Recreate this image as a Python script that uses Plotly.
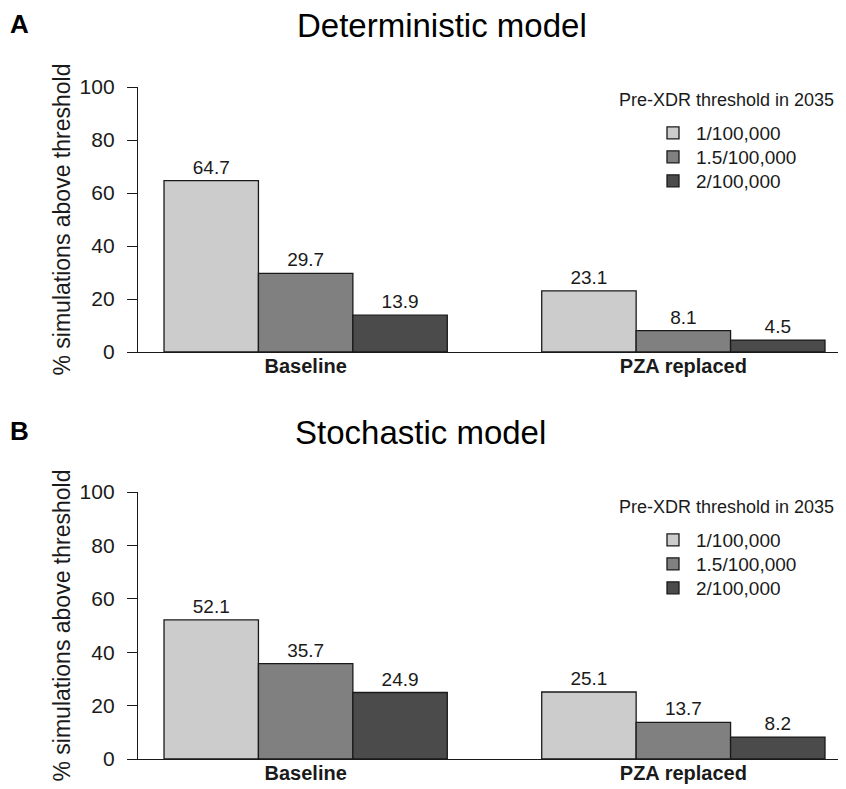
import plotly.graph_objects as go

categories = ["Baseline", "PZA replaced"]
series_names = ["1/100,000", "1.5/100,000", "2/100,000"]
deterministic = [[64.7, 23.1], [29.7, 8.1], [13.9, 4.5]]
stochastic = [[52.1, 25.1], [35.7, 13.7], [24.9, 8.2]]
colors = ["#cccccc", "#808080", "#4b4b4b"]
panel_titles = ["Deterministic model", "Stochastic model"]
panel_letters = ["A", "B"]
legend_title = "Pre-XDR threshold in 2035"
y_title = "% simulations above threshold"
y_ticks = [0, 20, 40, 60, 80, 100]

# page body has an 8px margin; work in reference pixel coordinates
OFF = 8
W, H = 846 - OFF, 789 - OFF
FONT = "Liberation Sans, Arial, sans-serif"
INK = "#1a1a1a"

def px_x(p):
    return (p - OFF) / W

def px_y(p):
    return 1 - (p - OFF) / H

fig = go.Figure()

panels = [
    dict(data=deterministic, top=87, bottom=352, xa="x", ya="y", dy=0),
    dict(data=stochastic, top=492, bottom=759, xa="x2", ya="y2", dy=407),
]
row_y = [133, 157, 181]

layout = dict(
    template="none",
    width=W, height=H,
    margin=dict(l=0, r=0, t=0, b=0, autoexpand=False),
    paper_bgcolor="white", plot_bgcolor="white",
    barmode="group", bargap=0.25, bargroupgap=0,
    font=dict(family=FONT, color=INK),
    showlegend=True,
)

annotations = []
li = 0
for pi, p in enumerate(panels):
    for si, name in enumerate(series_names):
        li += 1
        leg = "legend" if li == 1 else "legend%d" % li
        fig.add_trace(go.Bar(
            x=categories, y=p["data"][si], name=name,
            marker=dict(color=colors[si], line=dict(color=INK, width=1.3)),
            texttemplate="%{y:.1f}", textposition="outside",
            textfont=dict(size=19, color=INK, family=FONT),
            cliponaxis=False,
            xaxis=p["xa"], yaxis=p["ya"], legend=leg,
        ))
        layout[leg] = dict(
            x=px_x(650), xanchor="left", y=px_y(row_y[si] + p["dy"]), yanchor="middle",
            font=dict(size=19, family=FONT, color=INK), itemwidth=36,
            bgcolor="rgba(0,0,0,0)", borderwidth=0, itemclick=False,
        )

for pi, p in enumerate(panels):
    sfx = "" if pi == 0 else str(pi + 1)
    layout["xaxis" + sfx] = dict(
        domain=[px_x(127), 1], range=[-0.473, 1.4306],
        anchor="y" + sfx, showline=True, linecolor=INK, linewidth=1.3,
        ticks="", showgrid=False, zeroline=False, automargin=False,
        tickfont=dict(size=20, weight="bold", family=FONT, color=INK),
        ticklabelstandoff=-4,
    )
    layout["yaxis" + sfx] = dict(
        domain=[px_y(p["bottom"]), px_y(p["top"])], range=[0, 100],
        anchor="free", position=px_x(137), automargin=False,
        showline=True, linecolor=INK, linewidth=1.3,
        ticks="outside", ticklen=10, tickwidth=1.3, tickcolor=INK,
        tickvals=y_ticks, showgrid=False, zeroline=False,
        tickfont=dict(size=21, family=FONT, color=INK),
        ticklabelstandoff=8,
    )
    annotations.append(dict(
        text=legend_title, x=px_x(836), y=px_y(100 + p["dy"]), xref="paper", yref="paper",
        xanchor="right", yanchor="middle", showarrow=False,
        font=dict(size=18, family=FONT, color=INK),
    ))
    annotations.append(dict(
        text=panel_titles[pi], x=px_x(442 if pi == 0 else 420), y=px_y(25 + p["dy"]),
        xref="paper", yref="paper", xanchor="center", yanchor="middle", showarrow=False,
        font=dict(size=33, family=FONT, color="#000"),
    ))
    annotations.append(dict(
        text="<b>" + panel_letters[pi] + "</b>", x=px_x(8), y=px_y(24 + p["dy"]),
        xref="paper", yref="paper", xanchor="left", yanchor="middle", showarrow=False,
        font=dict(size=26, family=FONT, color="#000"),
    ))
    annotations.append(dict(
        text=y_title, x=px_x(61), y=px_y((p["top"] + p["bottom"]) / 2),
        xref="paper", yref="paper", xanchor="center", yanchor="middle", showarrow=False,
        textangle=-90, font=dict(size=23, family=FONT, color=INK),
    ))

layout["annotations"] = annotations
fig.update_layout(**layout)
fig.write_html("out.html")
